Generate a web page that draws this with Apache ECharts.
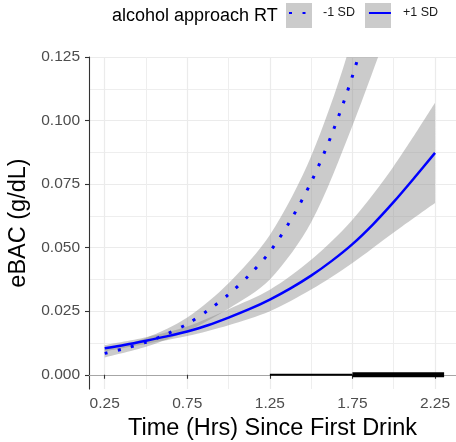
<!DOCTYPE html>
<html>
<head>
<meta charset="utf-8">
<script src="https://cdn.jsdelivr.net/npm/echarts@6/dist/echarts.min.js"></script>
<style>
  html, body { margin: 0; padding: 0; background: #ffffff; }
  #chart { width: 456px; height: 442px; }
</style>
</head>
<body>
<div id="chart"></div>
<script>
// Predicted eBAC (g/dL) by hours since first drink, for low (-1 SD) and high (+1 SD) alcohol approach RT
const hoursLow = [0.25, 0.375, 0.5, 0.625, 0.75, 0.875, 1.0, 1.125, 1.25, 1.375, 1.5, 1.625, 1.75, 1.875, 2.0];
const ebacLow = [0.0084, 0.0104, 0.0128, 0.0160, 0.0200, 0.0253, 0.0316, 0.0392, 0.0484, 0.0607, 0.0758, 0.0946, 0.1175, 0.146, 0.180];

const hoursHigh = [0.25, 0.375, 0.5, 0.625, 0.75, 0.875, 1.0, 1.125, 1.25, 1.375, 1.5, 1.625, 1.75, 1.875, 2.0, 2.125, 2.25];
const ebacHigh = [0.0104, 0.0118, 0.0134, 0.0151, 0.0170, 0.0195, 0.0225, 0.0258, 0.0296, 0.0340, 0.0390, 0.0448, 0.0514, 0.0592, 0.0680, 0.0775, 0.0873];

// Confidence bands (lower / upper limits)
const bandHoursLow = [0.25, 0.5, 0.75, 1.0, 1.25, 1.5, 1.75, 2.0];
const ciLowLower = [0.0068, 0.0110, 0.0172, 0.0260, 0.0375, 0.0600, 0.0980, 0.1420];
const ciLowUpper = [0.0100, 0.0145, 0.0225, 0.0360, 0.0550, 0.0860, 0.1330, 0.2050];

const bandHoursHigh = [0.25, 0.5, 0.75, 1.0, 1.25, 1.5, 1.75, 2.0, 2.25];
const ciHighLower = [0.0092, 0.0121, 0.0152, 0.0195, 0.0250, 0.0335, 0.0440, 0.0560, 0.0676];
const ciHighUpper = [0.0117, 0.0148, 0.0190, 0.0258, 0.0334, 0.0452, 0.0610, 0.0820, 0.1070];

// Region where the simple slopes differ (thin and thick segments along zero)
const regionThin = [1.25, 1.75];
const regionThick = [1.75, 2.305];

// Axis ticks and gridlines
const xMajor = [0.25, 0.75, 1.25, 1.75, 2.25];
const xMinor = [0.5, 1.0, 1.5, 2.0];
const yMajor = [0, 0.025, 0.05, 0.075, 0.1, 0.125];
const yMinor = [0.0125, 0.0375, 0.0625, 0.0875, 0.1125];

const FONT = '"Liberation Sans", Arial, Helvetica, sans-serif';
const BAND = 'rgba(140,140,140,0.45)';
const GRID_MAJOR = '#ebebeb';
const GRID_MINOR = '#eeeeee';
const X_MIN = 0.155, X_MAX = 2.377, Y_MIN = -0.0056, Y_MAX = 0.125;

const pairs = (xs, ys) => xs.map((x, i) => [x, ys[i]]);

// Ribbon between two limits: the y value is put in the first column so that
// the stack accumulates along y (encode maps the columns back to x/y).
function bandSeries(stackId, xs, lo, hi) {
  const common = {
    type: 'line', stack: stackId, encode: { x: 1, y: 0 }, smooth: 0.3,
    symbol: 'none', lineStyle: { opacity: 0, width: 0 }, silent: true, z: 1
  };
  return [
    Object.assign({}, common, { data: xs.map((x, i) => [lo[i], x]) }),
    Object.assign({}, common, {
      data: xs.map((x, i) => [hi[i] - lo[i], x]),
      areaStyle: { color: BAND, opacity: 1 }
    })
  ];
}

const chart = echarts.init(document.getElementById('chart'), null, { renderer: 'canvas' });

chart.setOption({
  animation: false,
  backgroundColor: '#ffffff',
  textStyle: { fontFamily: FONT },
  title: {
    text: 'alcohol approach RT', left: 112, top: 7, padding: 0,
    textStyle: { fontSize: 18, fontWeight: 'normal', color: '#000000', fontFamily: FONT }
  },
  legend: {
    left: 288, top: 3, padding: 0, itemWidth: 22, itemHeight: 25, itemGap: 13,
    selectedMode: false,
    data: ['-1 SD', '+1 SD'],
    itemStyle: { opacity: 0 },
    textStyle: { fontSize: 12.5, color: '#1a1a1a', fontFamily: FONT, padding: [0, 0, 0, 7] }
  },
  graphic: [
    { type: 'rect', left: 286, top: 3, shape: { width: 26, height: 25 }, style: { fill: BAND }, z: 0 },
    { type: 'rect', left: 365, top: 3, shape: { width: 26, height: 25 }, style: { fill: BAND }, z: 0 }
  ],
  grid: { left: 89, right: 0, top: 57, bottom: 53, outerBoundsMode: 'none' },
  xAxis: [
    {
      type: 'value', min: X_MIN, max: X_MAX, position: 'bottom',
      axisLine: { show: true, lineStyle: { color: '#333333', width: 1.1 } },
      axisTick: { show: true, customValues: xMajor, length: 4, lineStyle: { color: '#333333', width: 1.1 } },
      axisLabel: {
        customValues: xMajor, formatter: v => v.toFixed(2), color: '#4d4d4d',
        fontSize: 15.5, margin: 7, fontFamily: FONT
      },
      splitLine: { show: true, lineStyle: { color: GRID_MAJOR, width: 1.2 } },
      name: 'Time (Hrs) Since First Drink', nameLocation: 'middle', nameGap: 21,
      nameTextStyle: { fontSize: 23.5, color: '#000000', fontFamily: FONT }
    },
    {
      type: 'value', min: X_MIN, max: X_MAX, position: 'top',
      axisLine: { show: true, lineStyle: { color: '#a6a6a6', width: 1 } },
      axisTick: { show: false, customValues: xMinor },
      axisLabel: { show: false },
      splitLine: { show: true, lineStyle: { color: GRID_MINOR, width: 1 } }
    }
  ],
  yAxis: [
    {
      type: 'value', min: Y_MIN, max: Y_MAX, position: 'left',
      axisLine: { show: true, lineStyle: { color: '#333333', width: 1.1 } },
      axisTick: { show: true, customValues: yMajor, length: 4, lineStyle: { color: '#333333', width: 1.1 } },
      axisLabel: {
        customValues: yMajor, formatter: v => v.toFixed(3), color: '#4d4d4d',
        fontSize: 15.5, margin: 9, fontFamily: FONT
      },
      splitLine: { show: true, lineStyle: { color: GRID_MAJOR, width: 1.2 } },
      name: 'eBAC (g/dL)', nameLocation: 'middle', nameGap: 54,
      nameTextStyle: { fontSize: 23.5, color: '#000000', fontFamily: FONT }
    },
    {
      type: 'value', min: Y_MIN, max: Y_MAX, position: 'left',
      axisLine: { show: false },
      axisTick: { show: false, customValues: yMinor },
      axisLabel: { show: false },
      splitLine: { show: true, lineStyle: { color: GRID_MINOR, width: 1 } }
    }
  ],
  series: [
    ...bandSeries('bandLow', bandHoursLow, ciLowLower, ciLowUpper),
    ...bandSeries('bandHigh', bandHoursHigh, ciHighLower, ciHighUpper),
    {
      name: '-1 SD', type: 'line', data: pairs(hoursLow, ebacLow), smooth: 0.3,
      symbol: 'none', z: 3,
      lineStyle: { color: '#0000ff', width: 3, type: [3, 10.5] },
      itemStyle: { color: '#0000ff' }
    },
    {
      name: '+1 SD', type: 'line', data: pairs(hoursHigh, ebacHigh), smooth: 0.3,
      symbol: 'none', z: 3,
      lineStyle: { color: '#0000ff', width: 2.5, type: 'solid' },
      itemStyle: { color: '#0000ff' }
    },
    {
      type: 'line', data: regionThin.map(x => [x, 0]), symbol: 'none', silent: true, z: 4,
      lineStyle: { color: '#000000', width: 2 }
    },
    {
      type: 'line', data: regionThick.map(x => [x, 0]), symbol: 'none', silent: true, z: 4,
      lineStyle: { color: '#000000', width: 5 }
    }
  ]
});
</script>
</body>
</html>
